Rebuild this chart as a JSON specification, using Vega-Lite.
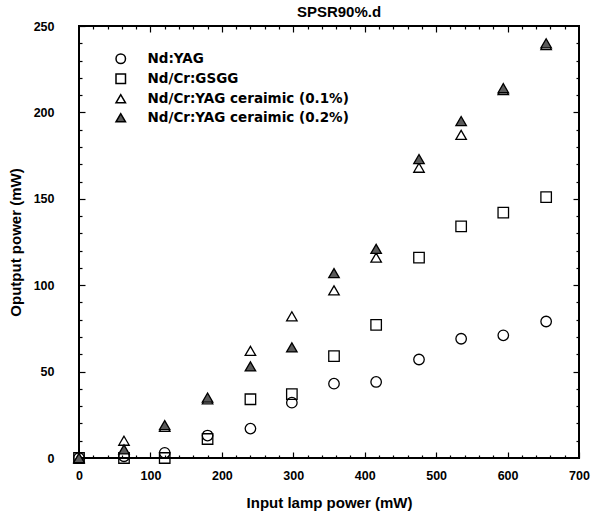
{
  "$schema": "https://vega.github.io/schema/vega-lite/v6.json",
  "width": 500,
  "height": 432,
  "autosize": "none",
  "padding": {"left": 79, "top": 26, "right": 26, "bottom": 55},
  "title": {"text": "SPSR90%.d", "font": "Liberation Sans", "fontSize": 15, "fontWeight": "bold", "color": "black", "dx": 10, "offset": 0},
  "config": {
    "view": {"stroke": "black", "strokeWidth": 2},
    "axis": {"grid": false, "domain": false, "ticks": true, "tickColor": "black", "tickWidth": 1.2, "labelFlush": false, "labelFont": "Liberation Sans", "labelFontWeight": "bold", "labelFontSize": 12.5, "labelColor": "black", "titleFont": "Liberation Sans", "titleFontWeight": "bold", "titleFontSize": 15, "titleColor": "black"}
  },
  "data": {"values": [
    {"x": 0, "y": 0, "s": "Nd:YAG"}, {"x": 63, "y": 1, "s": "Nd:YAG"}, {"x": 120, "y": 3, "s": "Nd:YAG"}, {"x": 180, "y": 13, "s": "Nd:YAG"}, {"x": 240, "y": 17, "s": "Nd:YAG"}, {"x": 298, "y": 32, "s": "Nd:YAG"}, {"x": 357, "y": 43, "s": "Nd:YAG"}, {"x": 416, "y": 44, "s": "Nd:YAG"}, {"x": 476, "y": 57, "s": "Nd:YAG"}, {"x": 535, "y": 69, "s": "Nd:YAG"}, {"x": 594, "y": 71, "s": "Nd:YAG"}, {"x": 654, "y": 79, "s": "Nd:YAG"},
    {"x": 0, "y": 0, "s": "Nd/Cr:GSGG"}, {"x": 63, "y": 0, "s": "Nd/Cr:GSGG"}, {"x": 120, "y": 0, "s": "Nd/Cr:GSGG"}, {"x": 180, "y": 11, "s": "Nd/Cr:GSGG"}, {"x": 240, "y": 34, "s": "Nd/Cr:GSGG"}, {"x": 298, "y": 37, "s": "Nd/Cr:GSGG"}, {"x": 357, "y": 59, "s": "Nd/Cr:GSGG"}, {"x": 416, "y": 77, "s": "Nd/Cr:GSGG"}, {"x": 476, "y": 116, "s": "Nd/Cr:GSGG"}, {"x": 535, "y": 134, "s": "Nd/Cr:GSGG"}, {"x": 594, "y": 142, "s": "Nd/Cr:GSGG"}, {"x": 654, "y": 151, "s": "Nd/Cr:GSGG"},
    {"x": 0, "y": 0, "s": "Nd/Cr:YAG ceraimic (0.1%)"}, {"x": 63, "y": 10, "s": "Nd/Cr:YAG ceraimic (0.1%)"}, {"x": 120, "y": 18, "s": "Nd/Cr:YAG ceraimic (0.1%)"}, {"x": 180, "y": 34, "s": "Nd/Cr:YAG ceraimic (0.1%)"}, {"x": 240, "y": 62, "s": "Nd/Cr:YAG ceraimic (0.1%)"}, {"x": 298, "y": 82, "s": "Nd/Cr:YAG ceraimic (0.1%)"}, {"x": 357, "y": 97, "s": "Nd/Cr:YAG ceraimic (0.1%)"}, {"x": 416, "y": 116, "s": "Nd/Cr:YAG ceraimic (0.1%)"}, {"x": 476, "y": 168, "s": "Nd/Cr:YAG ceraimic (0.1%)"}, {"x": 535, "y": 187, "s": "Nd/Cr:YAG ceraimic (0.1%)"}, {"x": 594, "y": 213, "s": "Nd/Cr:YAG ceraimic (0.1%)"}, {"x": 654, "y": 239, "s": "Nd/Cr:YAG ceraimic (0.1%)"},
    {"x": 0, "y": 0, "s": "Nd/Cr:YAG ceraimic (0.2%)"}, {"x": 63, "y": 5, "s": "Nd/Cr:YAG ceraimic (0.2%)"}, {"x": 120, "y": 19, "s": "Nd/Cr:YAG ceraimic (0.2%)"}, {"x": 180, "y": 35, "s": "Nd/Cr:YAG ceraimic (0.2%)"}, {"x": 240, "y": 53, "s": "Nd/Cr:YAG ceraimic (0.2%)"}, {"x": 298, "y": 64, "s": "Nd/Cr:YAG ceraimic (0.2%)"}, {"x": 357, "y": 107, "s": "Nd/Cr:YAG ceraimic (0.2%)"}, {"x": 416, "y": 121, "s": "Nd/Cr:YAG ceraimic (0.2%)"}, {"x": 476, "y": 173, "s": "Nd/Cr:YAG ceraimic (0.2%)"}, {"x": 535, "y": 195, "s": "Nd/Cr:YAG ceraimic (0.2%)"}, {"x": 594, "y": 214, "s": "Nd/Cr:YAG ceraimic (0.2%)"}, {"x": 654, "y": 240, "s": "Nd/Cr:YAG ceraimic (0.2%)"}
  ]},
  "resolve": {"axis": {"x": "independent", "y": "independent"}},
  "layer": [
    {
      "mark": {"type": "point", "opacity": 0},
      "encoding": {
        "x": {"field": "x", "type": "quantitative", "scale": {"domain": [0, 700], "nice": false}, "axis": {"orient": "bottom", "values": [20,40,60,80,120,140,160,180,220,240,260,280,320,340,360,380,420,440,460,480,520,540,560,580,620,640,660,680], "labels": false, "tickSize": -3, "title": null}},
        "y": {"field": "y", "type": "quantitative", "scale": {"domain": [0, 250], "nice": false}, "axis": {"orient": "left", "values": [10,20,30,40,60,70,80,90,110,120,130,140,160,170,180,190,210,220,230,240], "labels": false, "tickSize": -3, "title": null}}
      }
    },
    {
      "mark": {"type": "point", "opacity": 0},
      "encoding": {
        "x": {"field": "x", "type": "quantitative", "axis": {"orient": "top", "values": [20,40,60,80,120,140,160,180,220,240,260,280,320,340,360,380,420,440,460,480,520,540,560,580,620,640,660,680], "labels": false, "tickSize": -3, "title": null}},
        "y": {"field": "y", "type": "quantitative", "axis": {"orient": "right", "values": [10,20,30,40,60,70,80,90,110,120,130,140,160,170,180,190,210,220,230,240], "labels": false, "tickSize": -3, "title": null}}
      }
    },
    {
      "mark": {"type": "point", "opacity": 0},
      "encoding": {
        "x": {"field": "x", "type": "quantitative", "axis": {"orient": "top", "values": [100,200,300,400,500,600], "labels": false, "tickSize": -6, "title": null}},
        "y": {"field": "y", "type": "quantitative", "axis": {"orient": "right", "values": [50,100,150,200], "labels": false, "tickSize": -6, "title": null}}
      }
    },
    {
      "mark": {"type": "point", "filled": false, "stroke": "black", "strokeWidth": 1.3, "size": 110, "opacity": 1},
      "encoding": {
        "x": {"field": "x", "type": "quantitative", "axis": {"orient": "bottom", "values": [0,100,200,300,400,500,600,700], "tickSize": -6, "labelPadding": 17, "title": "Input lamp power (mW)", "titlePadding": 14}},
        "y": {"field": "y", "type": "quantitative", "axis": {"orient": "left", "values": [0,50,100,150,200,250], "tickSize": -6, "labelPadding": 31, "title": "Oputput power (mW)", "titlePadding": 10}},
        "shape": {"field": "s", "type": "nominal", "scale": {"domain": ["Nd:YAG", "Nd/Cr:GSGG", "Nd/Cr:YAG ceraimic (0.1%)", "Nd/Cr:YAG ceraimic (0.2%)"], "range": ["circle", "square", "triangle-up", "triangle-up"]}, "legend": {"title": null, "orient": "none", "legendX": 35, "legendY": 26, "padding": 0, "labelFont": "DejaVu Sans", "labelFontWeight": "bold", "labelFontSize": 13.5, "labelColor": "black", "labelLimit": 400, "symbolSize": 90, "rowPadding": 4, "labelOffset": 20, "encode": {"symbols": {"update": {"stroke": {"value": "black"}, "strokeWidth": {"value": 1.3}, "opacity": {"value": 1}}}}}},
        "fill": {"field": "s", "type": "nominal", "scale": {"domain": ["Nd:YAG", "Nd/Cr:GSGG", "Nd/Cr:YAG ceraimic (0.1%)", "Nd/Cr:YAG ceraimic (0.2%)"], "range": ["transparent", "transparent", "transparent", "#5a5a5a"]}, "legend": {"title": null, "orient": "none", "legendX": 35, "legendY": 26, "padding": 0, "labelFont": "DejaVu Sans", "labelFontWeight": "bold", "labelFontSize": 13.5, "labelColor": "black", "labelLimit": 400, "symbolSize": 90, "rowPadding": 4, "labelOffset": 20, "encode": {"symbols": {"update": {"stroke": {"value": "black"}, "strokeWidth": {"value": 1.3}, "opacity": {"value": 1}}}}}}
      }
    }
  ]
}
